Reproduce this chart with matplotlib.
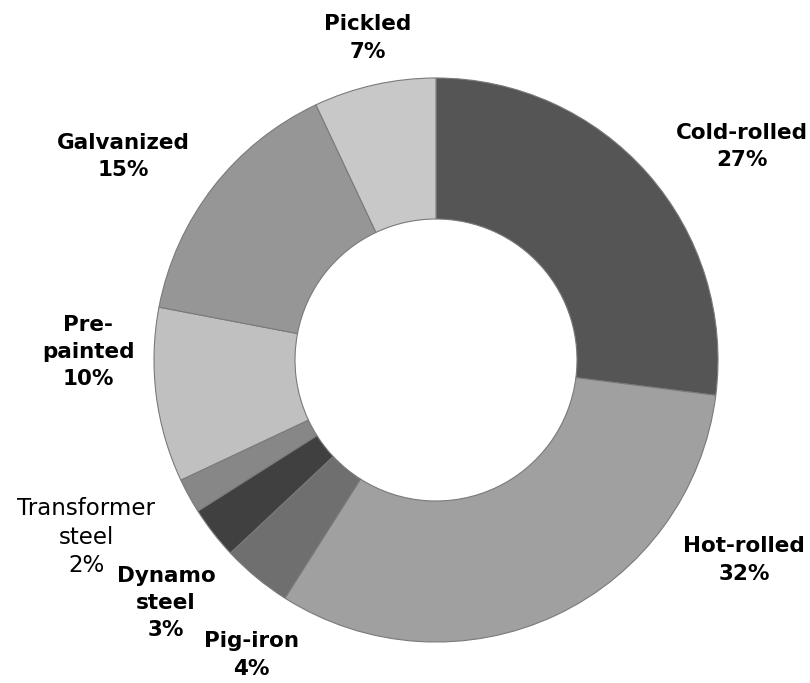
import matplotlib.pyplot as plt

# product mix of the steel output, in percent
categories = ["Cold-rolled", "Hot-rolled", "Pig-iron", "Dynamo\nsteel",
              "Transformer\nsteel", "Pre-\npainted", "Galvanized", "Pickled"]
shares = [27, 32, 4, 3, 2, 10, 15, 7]
colors = ["#555555", "#a0a0a0", "#6f6f6f", "#404040",
          "#878787", "#c0c0c0", "#969696", "#c8c8c8"]

# label centres in axis units (radius of the ring = 1)
label_pos = [(1.085, 0.757), (1.092, -0.709), (-0.656, -1.046), (-0.957, -0.862),
             (-1.241, -0.628), (-1.234, 0.028), (-1.110, 0.723), (-0.241, 1.142)]
bold_label = [True, True, True, True, False, True, True, True]

fig = plt.figure(figsize=(8.1, 6.83), dpi=100)
ax = fig.add_axes([0, 0, 1, 1])

ax.pie(shares, colors=colors, radius=1.0, startangle=90, counterclock=False,
       wedgeprops=dict(width=0.5, edgecolor="#7a7a7a", linewidth=0.8))

for name, value, (x, y), bold in zip(categories, shares, label_pos, bold_label):
    if bold:
        ax.text(x, y, f"{name}\n{value}%", ha="center", va="center",
                fontsize=15.5, fontweight="bold", family="DejaVu Sans",
                color="black", linespacing=1.45)
    else:
        ax.text(x, y, f"{name}\n{value}%", ha="center", va="center",
                fontsize=16.5, family="DejaVu Sans",
                color="black", linespacing=1.3)

# centre of the ring sits at (436, 360) px, radius 282 px
ax.set_xlim(-436 / 282, (810 - 436) / 282)
ax.set_ylim(-(683 - 360) / 282, 360 / 282)
ax.set_aspect("auto")
ax.axis("off")

fig.savefig("out.png", dpi=100, facecolor="white")
